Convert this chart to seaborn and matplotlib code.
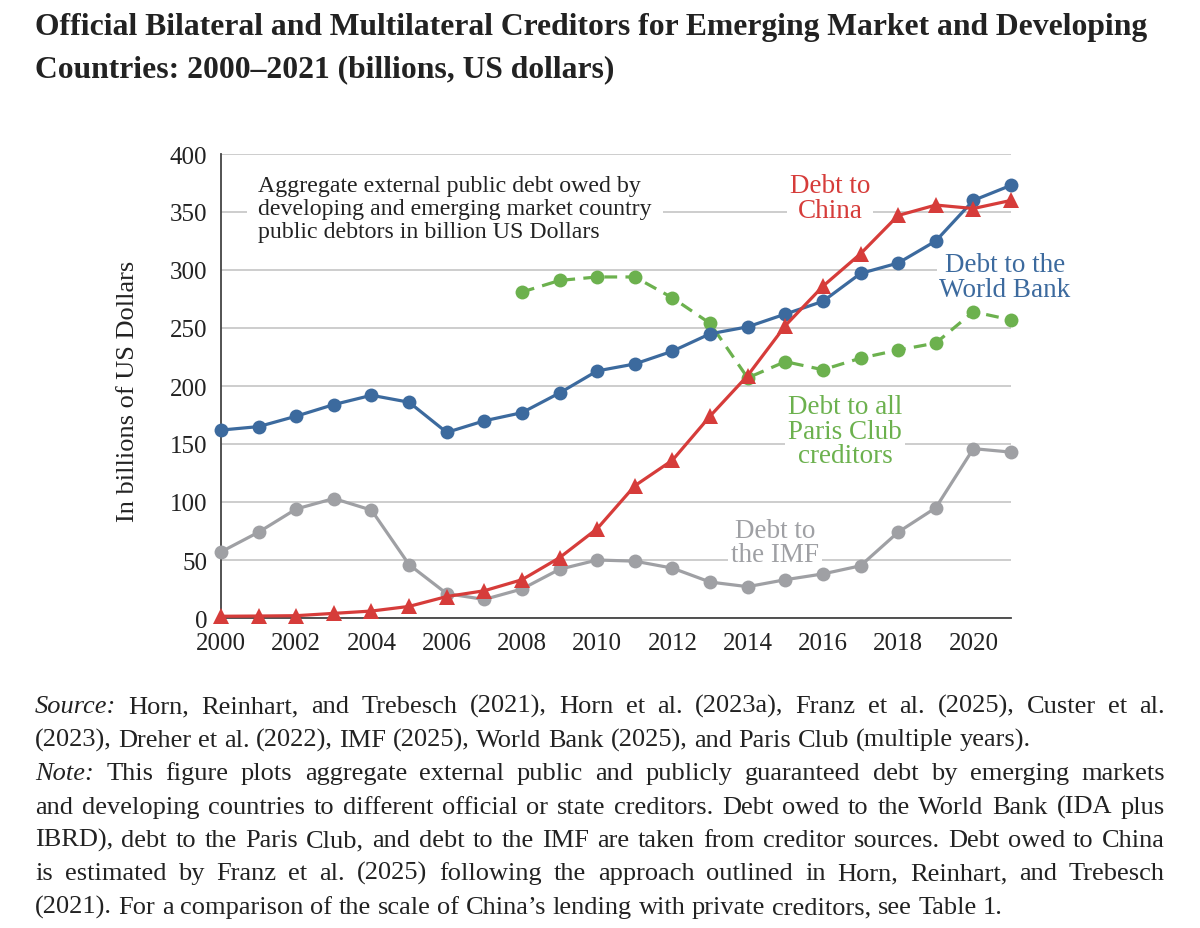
import numpy as np
import pandas as pd
import matplotlib
matplotlib.use("Agg")
import matplotlib.pyplot as plt
import seaborn as sns

# ===== DADOS =====
years = list(range(2000, 2022))
world_bank = [162, 165, 174, 184, 192, 186, 160, 170, 177, 194, 213,
              219, 230, 245, 251, 262, 273, 297, 306, 325, 360, 373]
china = [1.5, 1.7, 2, 4, 6, 10, 18.5, 23.5, 33, 52, 77,
         114, 136, 174, 209, 252, 286, 314, 347, 356, 353, 360]
paris_years = list(range(2008, 2022))
paris_club = [281, 291, 294, 294, 276, 254, 207, 221, 214, 224, 231, 237, 264, 257]
imf = [57, 74, 94, 103, 93, 46, 21, 16, 25, 42, 50,
       49, 43, 31, 27, 33, 38, 45, 74, 95, 146, 143]

title_lines = [
    "Official Bilateral and Multilateral Creditors for Emerging Market and Developing",
    "Countries: 2000\u20132021 (billions, US dollars)",
]
note_lines = [
    ("Source: Horn, Reinhart, and Trebesch (2021), Horn et al. (2023a), Franz et al. (2025), Custer et al.", True),
    ("(2023), Dreher et al. (2022), IMF (2025), World Bank (2025), and Paris Club (multiple years).", False),
    ("Note: This figure plots aggregate external public and publicly guaranteed debt by emerging markets", True),
    ("and developing countries to different official or state creditors. Debt owed to the World Bank (IDA plus", True),
    ("IBRD), debt to the Paris Club, and debt to the IMF are taken from creditor sources. Debt owed to China", True),
    ("is estimated by Franz et al. (2025) following the approach outlined in Horn, Reinhart, and Trebesch", True),
    ("(2021). For a comparison of the scale of China\u2019s lending with private creditors, see Table 1.", False),
]
italic_words = {"Source:", "Note:"}

# ===== ESTILO =====
BLUE = "#3c6a9e"
RED = "#d63c3a"
GREEN = "#6cb14e"
GRAY = "#9fa0a4"
TEXT = "#222222"
SERIF = ["Liberation Serif", "DejaVu Serif"]
NOTE_SIZE = 19

sns.set_style("white")
plt.rcParams["font.family"] = SERIF

W, H = 1200, 929
fig = plt.figure(figsize=(W / 100, H / 100), dpi=100)
ax = fig.add_axes([221 / W, 1 - 619 / H, 790 / W, 464 / H])

# ===== LINHAS =====
common = dict(ax=ax, linewidth=2.3, markeredgewidth=0, clip_on=False)
sns.lineplot(x=years, y=imf, color=GRAY, marker="o", markersize=10, zorder=3, **common)
sns.lineplot(x=paris_years, y=paris_club, color=GREEN, marker="o", markersize=10,
             linestyle="--", zorder=4, **common)
ax.lines[-1].set_dashes((4, 2.6))
sns.lineplot(x=years, y=world_bank, color=BLUE, marker="o", markersize=10, zorder=5, **common)
sns.lineplot(x=years, y=china, color=RED, marker="^", markersize=12, zorder=6, **common)

# ===== EIXOS =====
ax.set_xlim(2000, 2021)
ax.set_ylim(0, 400)
ax.set_xticks(range(2000, 2021, 2))
ax.set_yticks(range(0, 401, 50))
ax.yaxis.grid(True, color="#c9c9c9", linewidth=1.3)
ax.set_axisbelow(True)
for s in ["top", "right"]:
    ax.spines[s].set_visible(False)
for s in ["left", "bottom"]:
    ax.spines[s].set_color("#444444")
    ax.spines[s].set_linewidth(1.3)
ax.tick_params(axis="both", direction="out", length=7, width=1.3, color="#444444",
               labelsize=18, labelcolor=TEXT, pad=3)
ax.tick_params(axis="x", pad=3)
ax.set_xlabel("")
ax.set_ylabel("")
fig.text(128 / W, 1 - 391 / H, "In billions of US Dollars", rotation=90,
         ha="center", va="center", fontsize=19, color=TEXT)

# ===== ROTULOS =====
box = dict(facecolor="white", edgecolor="none", pad=2)
ax.text(2000.98, 353, "Aggregate external public debt owed by\n"
        "developing and emerging market country\npublic debtors in billion US Dollars",
        ha="left", va="center", fontsize=17.2, color=TEXT, linespacing=1.14,
        bbox=dict(facecolor="white", edgecolor="none", pad=8), zorder=2)
lab = dict(ha="center", va="center", fontsize=19.5, linespacing=0.98, bbox=box, zorder=2)
ax.text(2016.19, 362, "Debt to\nChina", color=RED, **lab)
ax.text(2020.84, 294, "Debt to the\nWorld Bank", color=BLUE, clip_on=False, **lab)
ax.text(2016.59, 161, "Debt to all\nParis Club\ncreditors", color=GREEN, **lab)
ax.text(2014.73, 65, "Debt to\nthe IMF", color=GRAY, **lab)

# ===== TITULO =====
fig.text(35 / W, 1 - 27 / H, title_lines[0], ha="left", va="center",
         fontsize=22.8, fontweight="bold", color=TEXT)
fig.text(35 / W, 1 - 70 / H, title_lines[1], ha="left", va="center",
         fontsize=22.8, fontweight="bold", color=TEXT)

# ===== NOTA (texto justificado, palavra a palavra) =====
renderer = fig.canvas.get_renderer()
x0, x1 = 35, 1165
note_baseline = [713, 747, 780, 814, 847, 880, 914]
for (line, justify), yb in zip(note_lines, note_baseline):
    words = line.split(" ")
    texts, widths = [], []
    for w in words:
        t = fig.text(0, 1 - yb / H, w, ha="left", va="baseline", fontsize=NOTE_SIZE,
                     color=TEXT, style="italic" if w in italic_words else "normal")
        texts.append(t)
        widths.append(t.get_window_extent(renderer).width)
    if justify:
        gap = (x1 - x0 - sum(widths)) / (len(words) - 1)
    else:
        gap = NOTE_SIZE * 0.25 * 100 / 72
    x = x0
    for t, wdt in zip(texts, widths):
        t.set_x(x / W)
        x += wdt + gap

fig.savefig("out.png", dpi=100)
